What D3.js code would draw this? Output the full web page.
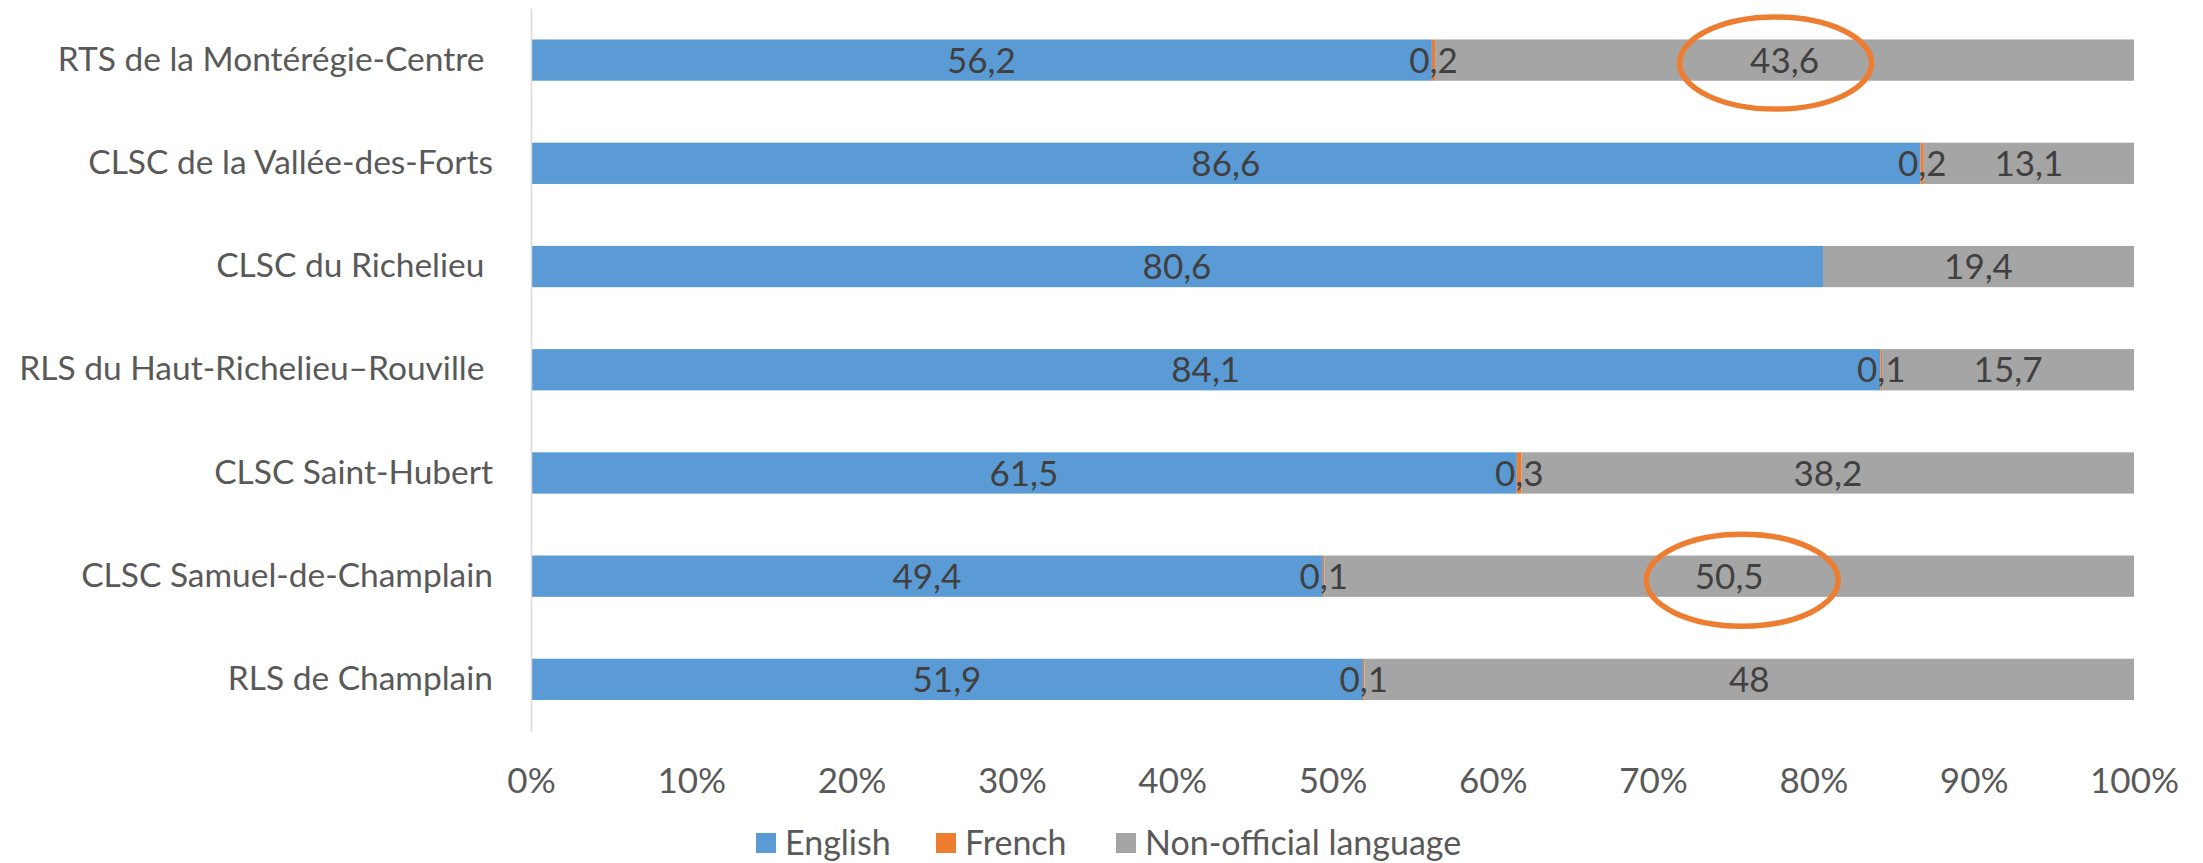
<!DOCTYPE html>
<html>
<head>
<meta charset="utf-8">
<script src="https://cdn.jsdelivr.net/npm/d3@7/dist/d3.min.js"></script>
<style>
  html, body { margin: 0; padding: 0; background: #fff; }
  svg { display: block; font-family: Lato, "Open Sans", sans-serif; }
</style>
</head>
<body>
<svg id="chart" width="2203" height="863"></svg>
<script>
// ---- Data ----
const categories = [
  "RTS de la Montérégie-Centre ",
  "CLSC de la Vallée-des-Forts",
  "CLSC du Richelieu ",
  "RLS du Haut-Richelieu–Rouville ",
  "CLSC Saint-Hubert",
  "CLSC Samuel-de-Champlain",
  "RLS de Champlain"
];
const seriesNames = ["English", "French", "Non-official language"];
const english     = [56.2, 86.6, 80.6, 84.1, 61.5, 49.4, 51.9];
const french      = [0.2, 0.2, null, 0.1, 0.3, 0.1, 0.1];
const nonOfficial = [43.6, 13.1, 19.4, 15.7, 38.2, 50.5, 48];
const tickValues  = [0, 10, 20, 30, 40, 50, 60, 70, 80, 90, 100];
const tickLabels  = ["0%", "10%", "20%", "30%", "40%", "50%", "60%", "70%", "80%", "90%", "100%"];
// highlighted data labels (category index, series index)
const highlights = [[0, 2], [5, 2]];

const colors = ["#5B9BD5", "#ED7D31", "#A5A5A5"];

// ---- Build table ----
const seriesValues = [english, french, nonOfficial];
const rows = categories.map((c, i) => {
  const r = { cat: c };
  seriesNames.forEach((s, j) => r[s] = seriesValues[j][i] == null ? 0 : seriesValues[j][i]);
  return r;
});
const stacked = d3.stack().keys(seriesNames).offset(d3.stackOffsetExpand)(rows);

// ---- Layout ----
const svg = d3.select("#chart");
const margin = { left: 531, right: 69, top: 8.5, bottom: 132 };
const W = 2203, H = 863;
const x = d3.scaleLinear().domain([0, 1]).range([margin.left, W - margin.right]);
const y = d3.scaleBand().domain(categories).range([margin.top, H - margin.bottom]).paddingInner(0.6).paddingOuter(0.3);

const fontSize = 35;
const catFontSize = 33.5;
const legendFontSize = 34;
const fmt = v => String(v).replace(".", ",");

// bars
const g = svg.append("g");
stacked.forEach((layer, j) => {
  g.append("g").attr("fill", colors[j])
    .selectAll("rect").data(layer).join("rect")
    .attr("x", d => x(d[0]))
    .attr("width", d => Math.max(0, x(d[1]) - x(d[0])))
    .attr("y", d => y(d.data.cat))
    .attr("height", y.bandwidth());
});

// data labels
stacked.forEach((layer, j) => {
  g.append("g")
    .selectAll("text").data(layer.map((d, i) => ({ d, v: seriesValues[j][i] })).filter(o => o.v != null))
    .join("text")
    .attr("x", o => x((o.d[0] + o.d[1]) / 2))
    .attr("y", o => y(o.d.data.cat) + y.bandwidth() / 2)
    .attr("dy", "0.36em")
    .attr("text-anchor", "middle")
    .attr("fill", "#404040")
    .attr("font-size", fontSize)
    .text(o => fmt(o.v));
});

// vertical category axis
const yAxis = svg.append("g")
  .attr("transform", `translate(${x(0)},0)`)
  .call(d3.axisLeft(y).tickSize(0).tickPadding(38).tickSizeOuter(0));
yAxis.select(".domain").attr("stroke", "#D9D9D9").attr("stroke-width", 1.5);
yAxis.selectAll("text")
  .attr("font-size", catFontSize)
  .attr("font-family", "Lato, sans-serif")
  .attr("fill", "#595959")
  .attr("xml:space", "preserve")
  .style("white-space", "pre");

// bottom value axis (labels only)
const xAxis = svg.append("g")
  .attr("transform", `translate(0,${H - margin.bottom})`)
  .call(d3.axisBottom(x).tickValues(tickValues.map(v => v / 100))
    .tickFormat((d, i) => tickLabels[i]).tickSize(0).tickPadding(37));
xAxis.select(".domain").remove();
xAxis.selectAll("text")
  .attr("font-size", fontSize)
  .attr("font-family", "Lato, sans-serif")
  .attr("fill", "#595959");

// highlight ellipses (hand-drawn annotation, slightly off-centre)
const ellipseShift = [[-9, 3], [13, 4]];
svg.append("g").selectAll("ellipse").data(highlights).join("ellipse")
  .attr("cx", ([c, s], i) => { const d = stacked[s][c]; return x((d[0] + d[1]) / 2) + ellipseShift[i][0]; })
  .attr("cy", ([c, s], i) => y(categories[c]) + y.bandwidth() / 2 + ellipseShift[i][1])
  .attr("rx", 96)
  .attr("ry", 46)
  .attr("fill", "none")
  .attr("stroke", "#ED7D31")
  .attr("stroke-width", 5.5);

// legend
const legendY = 843;
const legendX = [756, 936, 1116];
const leg = svg.append("g").selectAll("g").data(seriesNames).join("g")
  .attr("transform", (d, i) => `translate(${legendX[i]},${legendY})`);
leg.append("rect").attr("x", 0).attr("y", -10).attr("width", 20).attr("height", 20)
  .attr("fill", (d, i) => colors[i]);
leg.append("text").attr("x", 29).attr("y", 0).attr("dy", "0.36em")
  .attr("font-size", legendFontSize).attr("fill", "#595959").text(d => d);
</script>
</body>
</html>
